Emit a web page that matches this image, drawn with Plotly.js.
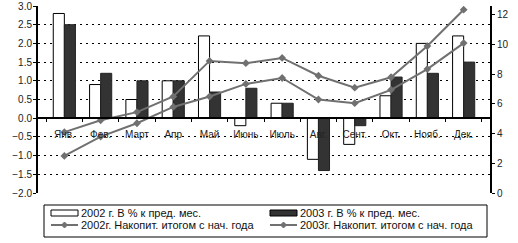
<!DOCTYPE html>
<html><head><meta charset="utf-8">
<script src="https://cdn.plot.ly/plotly-3.0.1.min.js"></script>
<style>html,body{margin:0;padding:0;background:#fff}#c{width:518px;height:243px}</style>
</head><body><div id="c"></div>
<script>
const months = ["Янв.", "Фев.", "Март", "Апр", "Май", "Июнь", "Июль", "Авг.", "Сент.", "Окт.", "Нояб.", "Дек."];
const pct2002 = [2.8, 0.9, 0.5, 1.0, 2.2, -0.2, 0.4, -1.1, -0.7, 0.6, 2.0, 2.2];
const pct2003 = [2.5, 1.2, 1.0, 1.0, 0.7, 0.8, 0.4, -1.4, -0.2, 1.1, 1.2, 1.5];
const cum2002 = [4.1, 4.9, 5.45, 6.5, 8.9, 8.75, 9.1, 7.9, 7.1, 7.8, 9.9, 12.35];
const cum2003 = [2.5, 3.8, 4.7, 5.8, 6.5, 7.35, 7.75, 6.3, 6.05, 6.95, 8.35, 10.1];
const names = ["2002 г. В % к пред. мес.", "2003 г. В % к пред. мес.", "2002г. Накопит. итогом с нач. года", "2003г. Накопит. итогом с нач. года"];

const lineColor = "#707070";
const barDark = "#333333";
const data = [
  {type:"bar", x:months, y:pct2002, name:names[0], marker:{color:"#ffffff", line:{color:"#000", width:1}}},
  {type:"bar", x:months, y:pct2003, name:names[1], marker:{color:barDark, line:{color:"#222", width:1}}},
  {type:"scatter", mode:"lines+markers", x:months, y:cum2002, name:names[2], yaxis:"y2",
   line:{color:lineColor, width:2}, marker:{symbol:"diamond", size:6, color:lineColor}},
  {type:"scatter", mode:"lines+markers", x:months, y:cum2003, name:names[3], yaxis:"y2",
   line:{color:lineColor, width:2}, marker:{symbol:"diamond", size:6, color:lineColor}}
];

// plot area in pixels
const W = 518, H = 243, L = 38, R = 28, T = 6, B = 50;
const pw = W - L - R, ph = H - T - B;
const px = v => (v - L) / pw;
const py = v => (H - B - v) / ph;

// custom legend (box, symbols, labels)
const shapes = [], annotations = [];
const legFont = {family:"Liberation Sans, Arial, sans-serif", size:11, color:"#111"};
shapes.push({type:"rect", xref:"paper", yref:"paper", x0:px(44), x1:px(487), y0:py(205), y1:py(237),
  line:{color:"#000", width:1}, fillcolor:"rgba(0,0,0,0)"});
const cols = [51, 270], rows = [213, 225];
[0,1,2,3].forEach(i => {
  const c = cols[i % 2], r = rows[Math.floor(i / 2)];
  if (i < 2) {
    shapes.push({type:"rect", xref:"paper", yref:"paper", x0:px(c), x1:px(c+27), y0:py(r-3), y1:py(r+3),
      line:{color:"#000", width:1}, fillcolor: i === 0 ? "#fff" : barDark});
  } else {
    shapes.push({type:"line", xref:"paper", yref:"paper", x0:px(c), x1:px(c+27), y0:py(r), y1:py(r),
      line:{color:lineColor, width:2}});
    const m = c + 13.5;
    shapes.push({type:"path", xref:"paper", yref:"paper",
      path:`M${px(m-3)},${py(r)} L${px(m)},${py(r-3)} L${px(m+3)},${py(r)} L${px(m)},${py(r+3)} Z`,
      line:{color:lineColor, width:1}, fillcolor:lineColor});
  }
  annotations.push({xref:"paper", yref:"paper", x:px(c+28), y:py(r), xanchor:"left", yanchor:"middle",
    text:names[i], showarrow:false, font:legFont});
});

const fnt = {family:"Liberation Sans, Arial, sans-serif", size:10, color:"#222"};
const layout = {
  width:W, height:H,
  margin:{l:L, r:R, t:T, b:B, pad:0},
  paper_bgcolor:"#fff", plot_bgcolor:"#fff",
  barmode:"group", bargap:0.39, bargroupgap:0,
  showlegend:false,
  shapes, annotations,
  xaxis:{type:"category", anchor:"free", position:0.4, showline:true, linecolor:"#000", linewidth:2,
    ticks:"outside", ticklen:3, tickcolor:"#000", tickson:"boundaries",
    showgrid:false, zeroline:false, tickfont:fnt, ticklabelstandoff:7, automargin:false},
  yaxis:{range:[-2,3], dtick:0.5, tickformat:".1f", showline:true, linecolor:"#000", linewidth:2,
    ticks:"outside", ticklen:3, tickcolor:"#000", ticklabelstandoff:-1,
    showgrid:true, gridcolor:"#000", gridwidth:1, griddash:"2px,4px",
    zeroline:false, tickfont:fnt, automargin:false},
  yaxis2:{range:[0,12.6], dtick:2, overlaying:"y", side:"right", showline:true, linecolor:"#000", linewidth:2,
    ticks:"outside", ticklen:3, tickcolor:"#000", showgrid:false, zeroline:false, tickfont:fnt, automargin:false}
};
Plotly.newPlot("c", data, layout, {staticPlot:true, displayModeBar:false});
</script></body></html>
